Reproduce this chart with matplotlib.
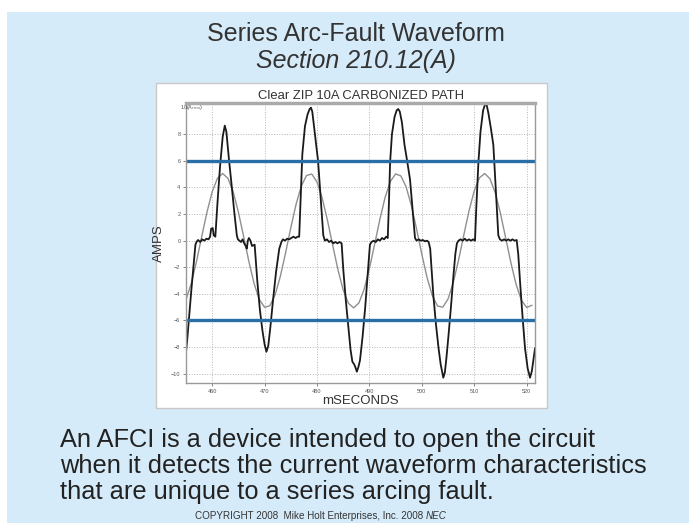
import numpy as np
import matplotlib
matplotlib.use("Agg")
from matplotlib import pyplot as plt
from matplotlib.patches import Rectangle

plt.rcParams['font.family'] = ['Liberation Sans', 'DejaVu Sans']

# reference sine (60 Hz, ~5 A peak), read at 1 ms steps
sine_t = list(range(455, 522))
sine_a = [-4.43, -3.23, -1.57, 0.31, 2.14, 3.68, 4.69, 5.05, 4.69, 3.68,
          2.14, 0.31, -1.57, -3.23, -4.43, -5.01, -4.89, -4.07, -2.69, -0.92,
          0.97, 2.73, 4.10, 4.90, 5.01, 4.41, 3.19, 1.52, -0.36, -2.19,
          -3.71, -4.71, -5.05, -4.68, -3.65, -2.10, -0.26, 1.61, 3.26, 4.45,
          5.02, 4.87, 4.05, 2.65, 0.88, -1.02, -2.77, -4.13, -4.91, -5.00,
          -4.39, -3.15, -1.48, 0.40, 2.23, 3.74, 4.73, 5.05, 4.66, 3.61,
          2.06, 0.21, -1.66, -3.30, -4.48, -5.02, -4.86]

# arcing current trace
arc_t = [455.0, 455.2, 456.0, 456.8, 457.0, 457.3, 457.7, 458.1, 458.5, 458.9,
         459.3, 459.6, 459.8, 460.1, 460.3, 460.6, 461.0, 461.5, 462.0, 462.4,
         462.7, 463.2, 463.7, 464.2, 464.7, 464.9, 465.2, 465.5, 465.8, 466.1,
         466.4, 466.6, 466.8, 467.0, 467.3, 467.6, 468.1, 468.6, 469.1, 469.6,
         470.0, 470.35, 470.7, 471.1, 471.6, 472.2, 472.8, 473.2, 473.5, 473.9,
         474.3, 474.7, 475.1, 475.5, 475.9, 476.3, 476.6, 476.9, 477.2, 477.7,
         478.2, 478.6, 478.85, 479.1, 479.6, 480.2, 480.7, 481.2, 481.5, 481.9,
         482.3, 482.7, 483.1, 483.5, 483.9, 484.3, 484.7, 485.0, 485.5, 486.0,
         486.4, 486.75, 487.1, 487.4, 487.6, 487.9, 488.2, 488.7, 489.2, 489.7,
         490.1, 490.4, 490.8, 491.2, 491.6, 492.0, 492.4, 492.8, 493.2, 493.5,
         493.7, 493.95, 494.3, 494.8, 495.2, 495.5, 495.8, 496.2, 496.7, 497.2,
         497.75, 498.2, 498.7, 499.0, 499.4, 499.8, 500.2, 500.6, 501.0, 501.3,
         501.6, 501.9, 502.2, 502.7, 503.2, 503.6, 504.1, 504.4, 504.7, 505.1,
         505.6, 506.0, 506.4, 506.7, 507.0, 507.4, 507.8, 508.2, 508.6, 509.0,
         509.4, 509.8, 510.15, 510.4, 510.8, 511.2, 511.7, 512.25, 512.7, 513.2,
         513.65, 514.1, 514.6, 514.9, 515.3, 515.7, 516.1, 516.5, 516.9, 517.3,
         517.7, 518.1, 518.4, 518.75, 519.2, 519.7, 520.2, 520.65, 521.0, 521.6]
arc_a = [-8.4, -7.6, -3.8, -0.3, -0.1, 0.05, -0.1, 0.1, 0.0, 0.15,
         0.1, 0.3, 0.9, 0.95, 0.4, 0.3, 2.8, 5.6, 7.8, 8.65,
         8.2, 6.1, 4.2, 2.2, 0.4, 0.1, 0.0, -0.1, 0.1, -0.2,
         -0.4, -0.6, 0.0, 0.2, 0.0, -0.4, -0.3, -3.0, -5.2, -6.8,
         -7.8, -8.35, -7.9, -6.5, -4.5, -2.3, -0.6, -0.1, 0.1, 0.0,
         0.15, 0.1, 0.2, 0.3, 0.2, 0.3, 0.3, 3.5, 6.5, 8.6,
         9.5, 9.9, 10.0, 9.7, 8.0, 6.0, 3.2, 0.4, 0.0, 0.1,
         -0.1, 0.0, -0.2, -0.1, -0.2, -0.1, -0.2, -2.1, -4.5, -6.6,
         -8.2, -9.1, -9.3, -9.6, -9.85, -9.5, -9.0, -7.2, -5.0, -2.4,
         -0.3, -0.1, 0.0, -0.1, 0.1, 0.0, 0.2, 0.1, 0.3, 0.2,
         2.5, 5.9, 8.0, 9.3, 9.8, 9.9, 9.7, 8.9, 7.2, 6.0,
         4.6, 2.5, 0.2, 0.0, 0.1, 0.0, 0.05, -0.05, 0.0, -0.1,
         -0.6, -2.3, -4.1, -6.3, -8.1, -9.3, -10.3, -9.9, -8.8, -7.1,
         -4.8, -2.8, -1.0, -0.2, 0.0, 0.1, 0.0, 0.15, 0.0, 0.1,
         0.0, 0.1, 0.0, 2.5, 5.9, 8.2, 9.8, 10.45, 9.6, 8.4,
         7.2, 4.0, 0.4, 0.1, 0.0, 0.1, 0.0, 0.1, 0.0, 0.1,
         0.0, 0.05, -1.0, -3.1, -5.6, -8.1, -9.6, -10.3, -9.8, -8.1]

trip_levels = [6, -6]
x_ticks = [460, 470, 480, 490, 500, 510, 520]
y_ticks = [-10, -8, -6, -4, -2, 0, 2, 4, 6, 8]

fig = plt.figure(figsize=(6.89, 5.23), dpi=100)
fig.patch.set_facecolor('white')
W, H = 689.0, 523.0

# slide background and white chart panel
fig.patches.append(Rectangle((7 / W, 0), 1 - 7 / W, 1 - 12 / H, transform=fig.transFigure,
                             facecolor='#d6ebf9', edgecolor='none', zorder=0))
fig.patches.append(Rectangle((156 / W, 1 - 408 / H), 391 / W, 325 / H, transform=fig.transFigure,
                             facecolor='white', edgecolor='#c8c8c8', lw=1, zorder=1))

ax = fig.add_axes([186 / W, 1 - 383 / H, 349 / W, 280 / H])
ax.set_zorder(2)
ax.plot(sine_t, sine_a, color='#909090', lw=1.0)
ax.plot(arc_t, arc_a, color='#1a1a1a', lw=1.3)
for lv in trip_levels:
    ax.axhline(lv, color='#2a6ea6', lw=2.4)

ax.set_xlim(455, 521.6)
ax.set_ylim(-10.7, 10.35)
ax.set_xticks(x_ticks)
ax.set_yticks(y_ticks)
ax.tick_params(labelsize=4, colors='#555555', length=2, width=0.5, pad=2)
ax.grid(True, linestyle=':', color='#b5b5b5', lw=0.7)
for s in ['left', 'bottom', 'right']:
    ax.spines[s].set_color('#999999')
    ax.spines[s].set_linewidth(1.0)
ax.spines['top'].set_color('#aaaaaa')
ax.spines['top'].set_linewidth(2.5)
# top tick label with unit, runs into the plot
ax.text(-6 / 349, 10.0, '10(A$_{rms}$)', fontsize=4, color='#555555',
        transform=ax.get_yaxis_transform(), ha='left', va='center', clip_on=False)

ax.set_title('Clear ZIP 10A CARBONIZED PATH', fontsize=9.4, color='#333333', pad=3)
ax.set_ylabel('AMPS', fontsize=9.5, color='#333333', labelpad=4)
ax.set_xlabel('mSECONDS', fontsize=9.5, color='#333333', labelpad=1)

# slide texts
fig.text(356 / W, 1 - 34 / H, 'Series Arc-Fault Waveform', fontsize=18, color='#333333',
         ha='center', va='center')
fig.text(356 / W, 1 - 61 / H, 'Section 210.12(A)', fontsize=18, color='#333333',
         ha='center', va='center', style='italic')
body = ['An AFCI is a device intended to open the circuit',
        'when it detects the current waveform characteristics',
        'that are unique to a series arcing fault.']
for i, line in enumerate(body):
    fig.text(60 / W, 1 - (440 + 26 * i) / H, line, fontsize=18.3, color='#222222',
             ha='left', va='center')

cp = fig.text(195 / W, 1 - 516 / H, 'COPYRIGHT 2008  Mike Holt Enterprises, Inc. 2008 ',
              fontsize=7.1, color='#333333', ha='left', va='center')
fig.canvas.draw()
bb = cp.get_window_extent()
fig.text(bb.x1 / W, 1 - 516 / H, 'NEC', fontsize=7.1, color='#333333', ha='left',
         va='center', style='italic')

fig.savefig('out.png', dpi=100)
